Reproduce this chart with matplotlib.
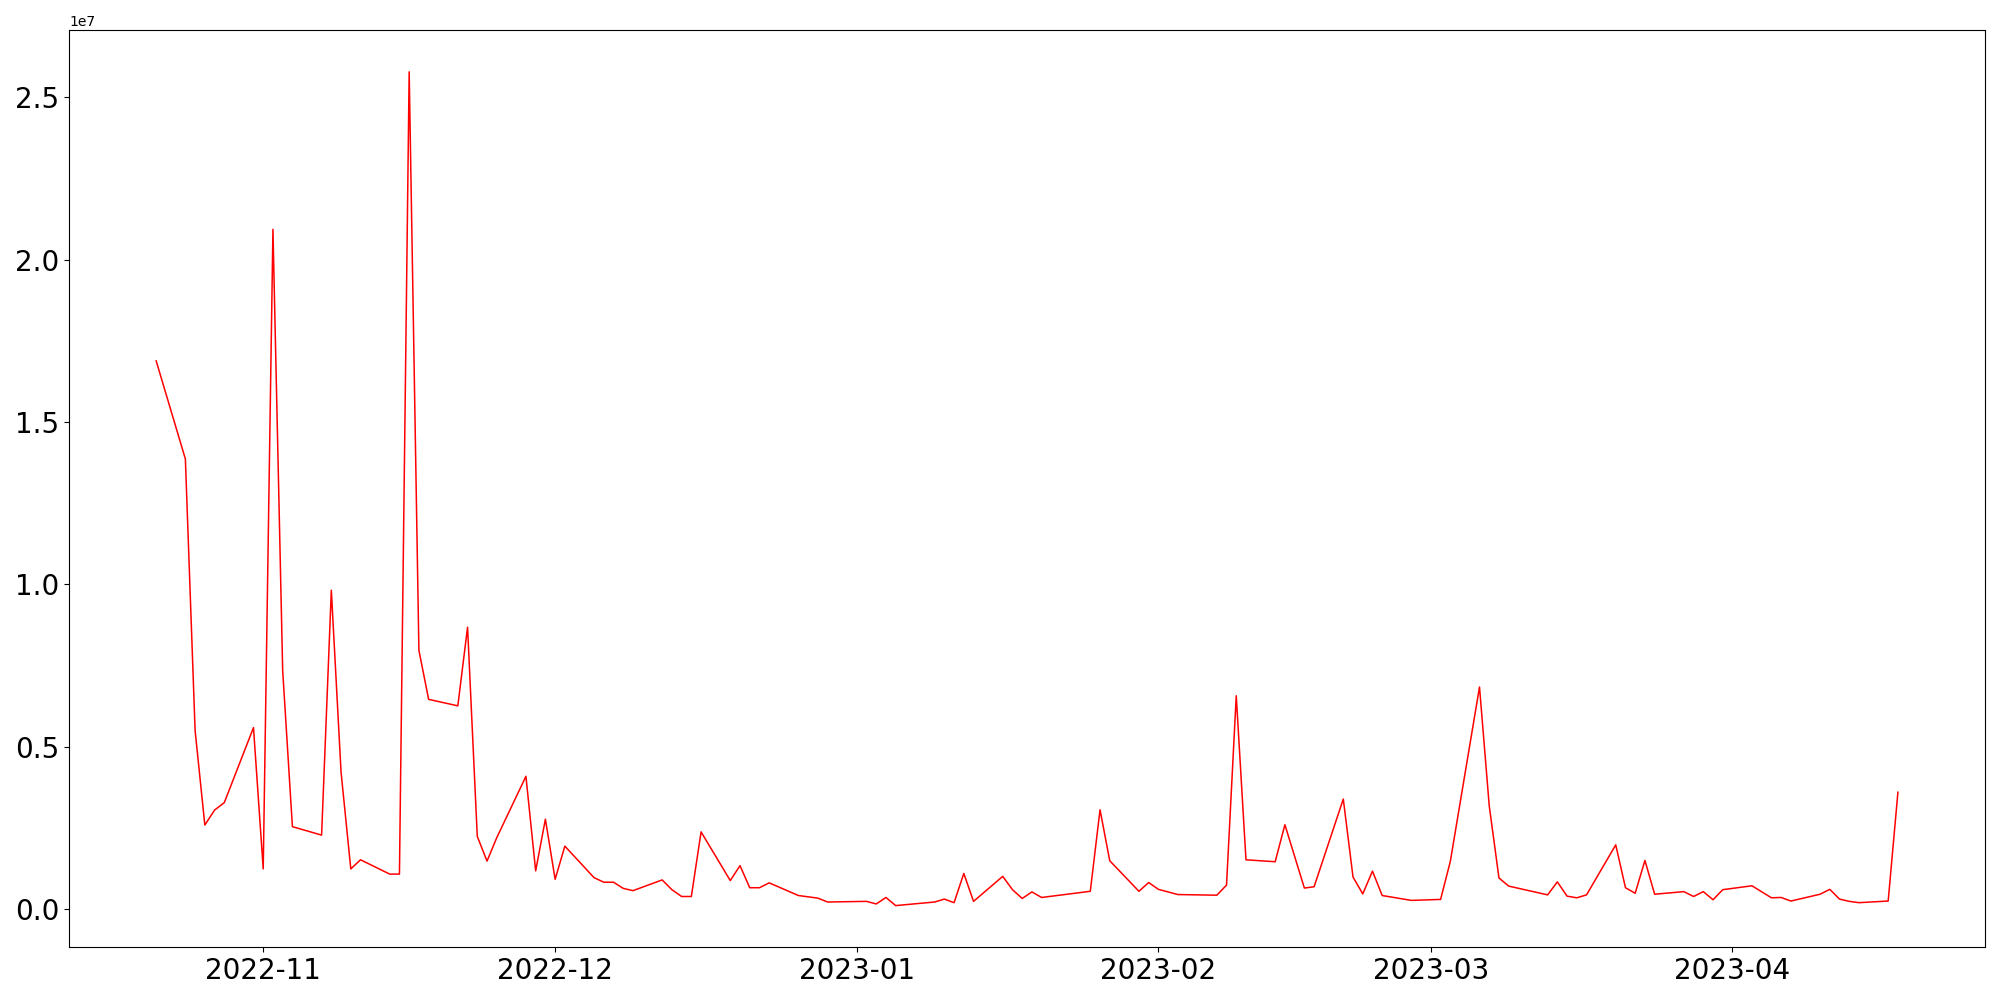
import numpy as np
import pandas as pd
import matplotlib
matplotlib.use("Agg")
import matplotlib.pyplot as plt

# trading dates with visible vertices
dates = [
    "2022-10-21", "2022-10-24", "2022-10-25", "2022-10-26", "2022-10-27", "2022-10-28",
    "2022-10-31", "2022-11-01", "2022-11-02", "2022-11-03", "2022-11-04",
    "2022-11-07", "2022-11-08", "2022-11-09", "2022-11-10", "2022-11-11",
    "2022-11-14", "2022-11-15", "2022-11-16", "2022-11-17", "2022-11-18",
    "2022-11-21", "2022-11-22", "2022-11-23", "2022-11-24", "2022-11-25",
    "2022-11-28", "2022-11-29", "2022-11-30", "2022-12-01", "2022-12-02",
    "2022-12-05", "2022-12-06", "2022-12-07", "2022-12-08", "2022-12-09",
    "2022-12-12", "2022-12-13", "2022-12-14", "2022-12-15", "2022-12-16",
    "2022-12-19", "2022-12-20", "2022-12-21", "2022-12-22", "2022-12-23",
    "2022-12-26", "2022-12-28", "2022-12-29",
    "2023-01-02", "2023-01-03", "2023-01-04", "2023-01-05",
    "2023-01-09", "2023-01-10", "2023-01-11", "2023-01-12", "2023-01-13",
    "2023-01-16", "2023-01-17", "2023-01-18", "2023-01-19", "2023-01-20",
    "2023-01-25", "2023-01-26", "2023-01-27",
    "2023-01-30", "2023-01-31", "2023-02-01", "2023-02-03",
    "2023-02-07", "2023-02-08", "2023-02-09", "2023-02-10",
    "2023-02-13", "2023-02-14", "2023-02-16", "2023-02-17",
    "2023-02-20", "2023-02-21", "2023-02-22", "2023-02-23", "2023-02-24",
    "2023-02-27", "2023-03-02", "2023-03-03",
    "2023-03-06", "2023-03-07", "2023-03-08", "2023-03-09",
    "2023-03-13", "2023-03-14", "2023-03-15", "2023-03-16", "2023-03-17",
    "2023-03-20", "2023-03-21", "2023-03-22", "2023-03-23", "2023-03-24",
    "2023-03-27", "2023-03-28", "2023-03-29", "2023-03-30", "2023-03-31",
    "2023-04-03", "2023-04-05", "2023-04-06", "2023-04-07",
    "2023-04-10", "2023-04-11", "2023-04-12", "2023-04-13", "2023-04-14",
    "2023-04-17", "2023-04-18",
]

# values in millions
values_m = [
    16.88, 13.86, 5.50, 2.59, 3.05, 3.28,
    5.59, 1.24, 20.93, 7.35, 2.54,
    2.28, 9.82, 4.22, 1.24, 1.52,
    1.08, 1.08, 25.78, 7.97, 6.46,
    6.26, 8.68, 2.24, 1.48, 2.20,
    4.09, 1.18, 2.77, 0.92, 1.94,
    0.97, 0.83, 0.83, 0.64, 0.57,
    0.90, 0.60, 0.39, 0.39, 2.38,
    0.88, 1.34, 0.66, 0.66, 0.81,
    0.42, 0.34, 0.22,
    0.24, 0.16, 0.36, 0.11,
    0.22, 0.31, 0.20, 1.10, 0.24,
    1.01, 0.60, 0.33, 0.53, 0.36,
    0.55, 3.06, 1.49,
    0.55, 0.82, 0.61, 0.45,
    0.43, 0.74, 6.57, 1.52,
    1.46, 2.60, 0.65, 0.69,
    3.39, 0.99, 0.47, 1.17, 0.42,
    0.27, 0.30, 1.47,
    6.84, 3.18, 0.96, 0.71,
    0.44, 0.84, 0.40, 0.35, 0.44,
    1.98, 0.66, 0.49, 1.50, 0.46,
    0.54, 0.39, 0.54, 0.29, 0.60,
    0.72, 0.35, 0.36, 0.25,
    0.46, 0.61, 0.31, 0.24, 0.20,
    0.25, 3.60,
]


def main() -> None:
    x = pd.to_datetime(dates)
    y = np.array(values_m) * 1e6

    fig, ax = plt.subplots(figsize=(20, 10), dpi=100)
    ax.plot(x, y, color="red", linewidth=1.1)
    ax.tick_params(axis="both", labelsize=20)
    plt.tight_layout()
    plt.savefig("out.png")
    plt.close()


if __name__ == "__main__":
    main()
